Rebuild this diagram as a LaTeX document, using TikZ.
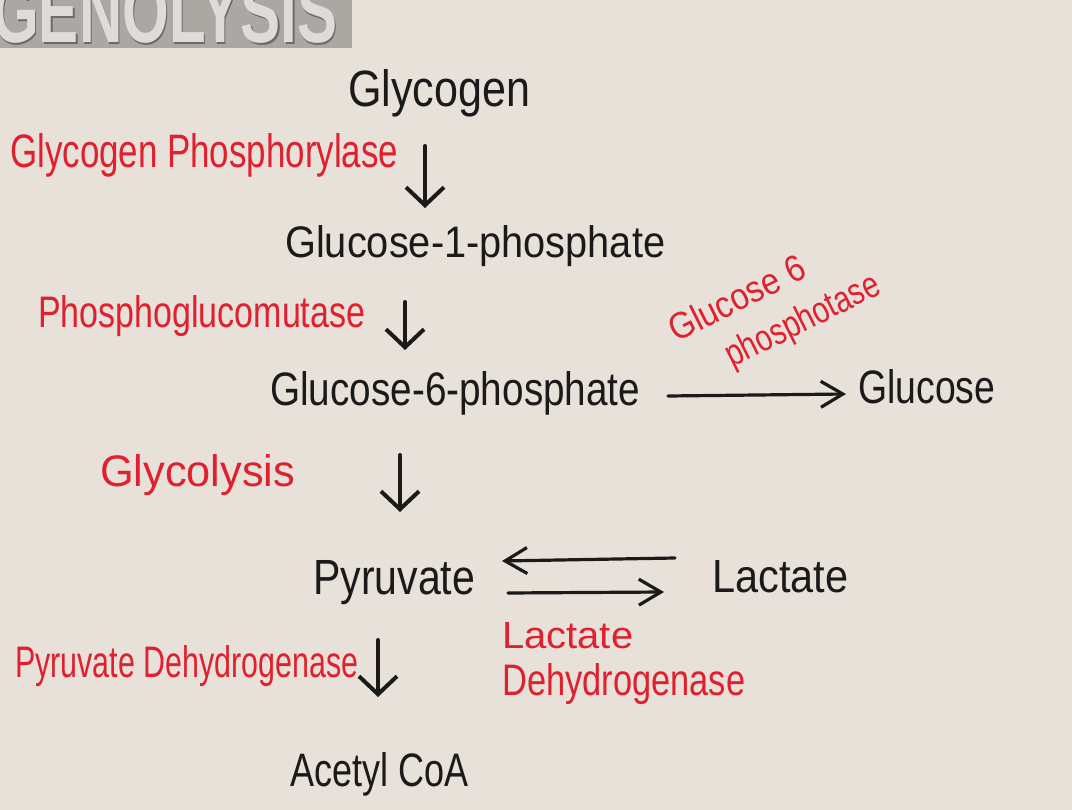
\documentclass[tikz,border=0pt]{standalone}
\usepackage{fontspec}
\setmainfont{Liberation Sans}
\usetikzlibrary{arrows.meta}
\definecolor{bg}{HTML}{E7E1D9}
\definecolor{myred}{HTML}{E0202E}
\definecolor{ink}{HTML}{1A1A1A}
\definecolor{bannerbg}{HTML}{ABA7A3}
\definecolor{bannertx}{HTML}{DEDCDA}
\definecolor{bannersh}{HTML}{6E6A67}
\newcommand\fwh[3]{\resizebox{#1pt}{#2pt}{#3}}
\begin{document}
\begin{tikzpicture}[x=1pt,y=-1pt,
  blk/.style={text=ink,inner sep=0pt,anchor=base west},
  rd/.style={text=myred,inner sep=0pt,anchor=base west},
  arrv/.style={draw=ink,line width=4pt,line cap=round,line join=round,
    -{Straight Barb[length=18pt,width=38pt,line width=4pt]}},
  arrh/.style={draw=ink,line width=3.2pt,line cap=round,line join=round,
    -{Straight Barb[length=22pt,width=26pt,line width=3.2pt]}}]
\fill[bg] (0,0) rectangle (1072,810);
\useasboundingbox (0,0) rectangle (1072,810);
% banner
\begin{scope}
\clip (0,0) rectangle (352,48);
\fill[bannerbg] (0,0) rectangle (352,48);
\node[inner sep=0pt,anchor=south west,text=bannersh] (bannersh) at (-6.5,45.5)
  {\resizebox{345pt}{62pt}{\bfseries GENOLYSIS}};
\node[inner sep=0pt,anchor=south west,text=bannertx] (banner) at (-8,44)
  {\resizebox{345pt}{62pt}{\bfseries GENOLYSIS}};
\end{scope}
% black nodes
\node[blk] (glycogen) at (348,107) {\fwh{182}{37}{Glycogen}};
\node[blk] (g1p) at (285,258) {\fwh{380}{32}{Glucose-1-phosphate}};
\node[blk] (g6p) at (270,406) {\fwh{370}{34}{Glucose-6-phosphate}};
\node[blk] (glucose) at (858,404) {\fwh{137}{34}{Glucose}};
\node[blk] (pyruvate) at (313,594) {\fwh{162}{34}{Pyruvate}};
\node[blk] (lactate) at (712,592) {\fwh{136}{32}{Lactate}};
\node[blk] (acetyl) at (290,786) {\fwh{178}{34}{Acetyl CoA}};
% red labels
\node[rd] (gp) at (10,168) {\fwh{388}{34}{Glycogen Phosphorylase}};
\node[rd] (pgm) at (38,328) {\fwh{327}{32}{Phosphoglucomutase}};
\node[rd] (glyc) at (100,487) {\fwh{195}{32}{Glycolysis}};
\node[rd] (pdh) at (15,677) {\fwh{343}{32}{Pyruvate Dehydrogenase}};
\node[rd] (ldh1) at (502,648) {\fwh{131}{26}{Lactate}};
\node[rd] (ldh2) at (502,695) {\fwh{243}{32}{Dehydrogenase}};
\node[rd,rotate=26.6] (g6pase1) at (676,343) {\fwh{148}{27}{Glucose 6}};
\node[rd,rotate=26.4] (g6pase2) at (732,368) {\fwh{168}{27}{phosphotase}};
% arrow end points
\coordinate (a1s) at (425,146); \coordinate (a1e) at (425,208);
\coordinate (a2s) at (405,302); \coordinate (a2e) at (405,350);
\coordinate (a3s) at (668,396); \coordinate (a3e) at (846,394);
\coordinate (a4s) at (400,455); \coordinate (a4e) at (400,512);
\coordinate (a5s) at (675,558); \coordinate (a5e) at (502,561);
\coordinate (a6s) at (508,593); \coordinate (a6e) at (664,592);
\coordinate (a7s) at (378,640); \coordinate (a7e) at (378,697);
\draw[arrv] (a1s) -- (a1e);
\draw[arrv] (a2s) -- (a2e);
\draw[arrh] (a3s) -- (a3e);
\draw[arrv] (a4s) -- (a4e);
\draw[arrh] (a5s) -- (a5e);
\draw[arrh] (a6s) -- (a6e);
\draw[arrv] (a7s) -- (a7e);
\end{tikzpicture}
\end{document}
